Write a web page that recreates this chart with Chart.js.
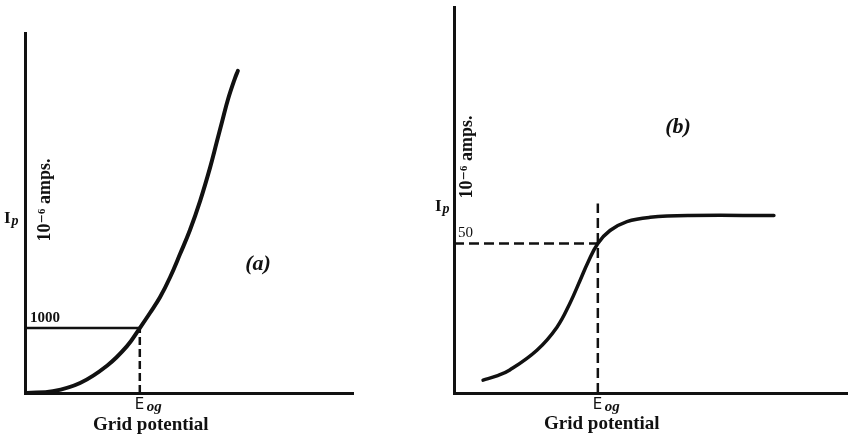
<!DOCTYPE html>
<html>
<head>
<meta charset="utf-8">
<script src="https://cdn.jsdelivr.net/npm/chart.js@4"></script>
<style>
  body { margin: 0; background: #fff; }
  #wrap { position: relative; width: 851px; height: 436px; background: #fff; }
  #wrap canvas { position: absolute; top: 0; }
</style>
</head>
<body>
<div id="wrap">
  <canvas id="chartA" width="420" height="436" style="left:0"></canvas>
  <canvas id="chartB" width="431" height="436" style="left:420px"></canvas>
</div>
<script>
// (a) plate current rises steeply with grid potential
const gridA = [0.06, 0.85, 1.68, 2.5, 3.11, 3.5, 3.81, 4.12, 4.42, 4.73, 5.03, 5.34, 5.64, 5.85, 6.01, 6.19, 6.4, 6.49];
const plateA = [0, 28, 154, 420, 722, 1000, 1231, 1477, 1777, 2142, 2508, 2958, 3465, 3869, 4177, 4520, 4842, 4957];
const eogA = 3.5;
const ipA = 1000;

// (b) plate current saturates
const gridB = [0.74, 1.09, 1.42, 2.11, 2.62, 2.95, 3.21, 3.41, 3.66, 3.97, 4.4, 4.99, 6.0, 8.14];
const plateB = [4.3, 5.7, 7.7, 14.3, 22, 30, 37.7, 43.7, 50, 54.3, 57.3, 58.7, 59.3, 59.3];
const eogB = 3.66;
const ipB = 50;
const eogBTop = 63.3;

const ink = "#111";
const serif = '"Liberation Serif", "DejaVu Serif", serif';

const toPoints = (xs, ys) => xs.map((x, i) => ({ x: x, y: ys[i] }));

const axisOpts = (max) => ({
  type: "linear",
  min: 0,
  max: max,
  ticks: { display: false },
  grid: { display: false, drawTicks: false },
  border: { display: true, color: ink, width: 3 },
});

const curveSet = (data, width) => ({
  data: data,
  showLine: true,
  borderColor: ink,
  borderWidth: width,
  borderCapStyle: "round",
  borderJoinStyle: "round",
  pointRadius: 0,
  tension: 0.4,
  clip: false,
});

const refLine = (data, dash, width) => ({
  data: data,
  showLine: true,
  borderColor: ink,
  borderWidth: width,
  borderDash: dash,
  pointRadius: 0,
  clip: false,
});

// draws "I" with subscript p
const drawIp = (ctx, x, y) => {
  ctx.textAlign = "left";
  ctx.font = "bold 17px " + serif;
  ctx.fillText("I", x, y);
  const w = ctx.measureText("I").width;
  ctx.font = "italic bold 14px " + serif;
  ctx.fillText("p", x + w + 1, y + 2);
};

const drawEog = (ctx, x, y) => {
  ctx.textAlign = "left";
  ctx.font = "15px \"DejaVu Sans\", sans-serif";
  ctx.fillText("E", x - 5, y);
  ctx.font = "italic bold 15px " + serif;
  ctx.fillText("og", x + 7, y + 2);
};

const drawAmps = (ctx, x, y) => {
  ctx.save();
  ctx.translate(x, y);
  ctx.rotate(-Math.PI / 2);
  ctx.textAlign = "center";
  ctx.font = "bold 18px " + serif;
  ctx.fillText("10\u207B\u2076 amps.", 0, 0);
  ctx.restore();
};

const labelPlugin = (draw) => ({
  id: "labels",
  afterDraw(chart) {
    const ctx = chart.ctx;
    ctx.save();
    ctx.fillStyle = ink;
    ctx.textBaseline = "alphabetic";
    draw(ctx, chart.scales.x, chart.scales.y, chart.chartArea);
    ctx.restore();
  },
});

const baseOptions = (padding, yMax) => ({
  responsive: false,
  animation: false,
  layout: { padding: padding },
  plugins: { legend: { display: false }, tooltip: { enabled: false } },
  scales: { x: axisOpts(10), y: axisOpts(yMax) },
});

new Chart(document.getElementById("chartA"), {
  type: "scatter",
  data: {
    datasets: [
      curveSet(toPoints(gridA, plateA), 4),
      refLine([{ x: 0, y: ipA }, { x: eogA, y: ipA }], [], 2.5),
      refLine([{ x: eogA, y: 0 }, { x: eogA, y: ipA }], [8, 4], 2.5),
    ],
  },
  options: baseOptions({ left: 25, right: 67, top: 33, bottom: 43 }, 5540),
  plugins: [
    labelPlugin((ctx, xs, ys, area) => {
      const ex = xs.getPixelForValue(eogA);
      ctx.textAlign = "left";
      ctx.font = "bold 15px " + serif;
      ctx.fillText("1000", area.left + 5, ys.getPixelForValue(ipA) - 6);
      drawEog(ctx, ex, area.bottom + 16);
      ctx.textAlign = "center";
      ctx.font = "bold 19px " + serif;
      ctx.fillText("Grid potential", ex + 11, area.bottom + 37);
      drawIp(ctx, 4, 223);
      drawAmps(ctx, 50, 200);
      ctx.textAlign = "center";
      ctx.font = "italic bold 22px " + serif;
      ctx.fillText("(a)", 258, 270);
    }),
  ],
});

new Chart(document.getElementById("chartB"), {
  type: "scatter",
  data: {
    datasets: [
      curveSet(toPoints(gridB, plateB), 3.5),
      refLine([{ x: 0, y: ipB }, { x: eogB, y: ipB }], [10, 5], 2.5),
      refLine([{ x: eogB, y: 0 }, { x: eogB, y: eogBTop }], [10, 5], 2.5),
    ],
  },
  options: baseOptions({ left: 34, right: 4, top: 7, bottom: 43 }, 129),
  plugins: [
    labelPlugin((ctx, xs, ys, area) => {
      const ex = xs.getPixelForValue(eogB);
      ctx.textAlign = "left";
      ctx.font = "15px " + serif;
      ctx.fillText("50", area.left + 4, ys.getPixelForValue(ipB) - 6);
      drawEog(ctx, ex, area.bottom + 16);
      ctx.textAlign = "center";
      ctx.font = "bold 19px " + serif;
      ctx.fillText("Grid potential", ex + 4, area.bottom + 36);
      drawIp(ctx, 15, 211);
      drawAmps(ctx, 52, 157);
      ctx.textAlign = "center";
      ctx.font = "italic bold 22px " + serif;
      ctx.fillText("(b)", 258, 133);
    }),
  ],
});
</script>
</body>
</html>
